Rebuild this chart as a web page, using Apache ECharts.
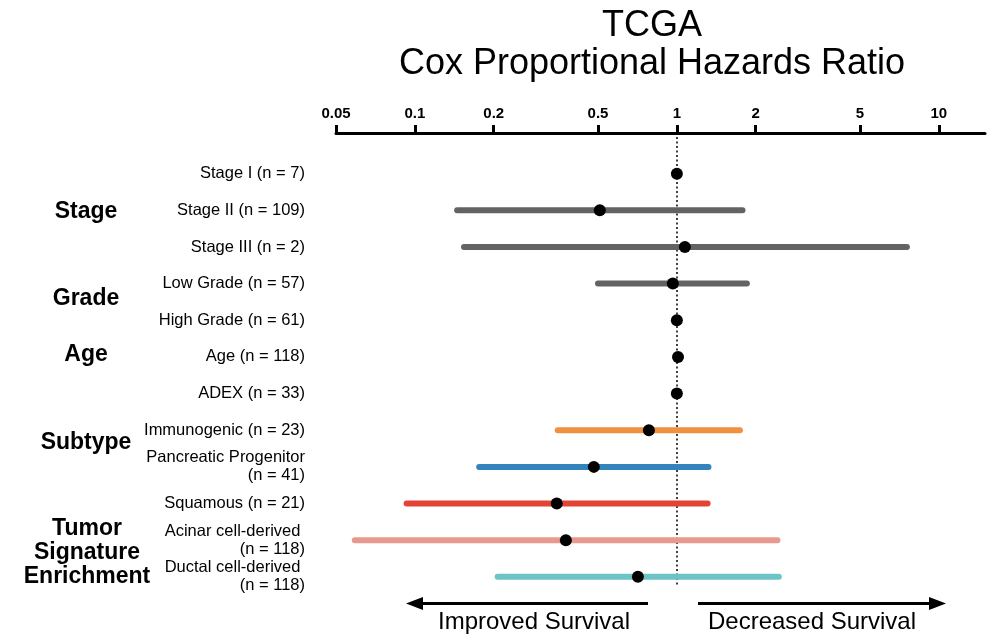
<!DOCTYPE html>
<html>
<head>
<meta charset="utf-8">
<script src="https://cdn.jsdelivr.net/npm/echarts@6/dist/echarts.min.js"></script>
<style>
html,body{margin:0;padding:0;background:#fff;}
#main{width:994px;height:638px;}
</style>
</head>
<body>
<div id="main"></div>
<script>
// ---- data ----
const rowLabels = [
  'Stage I (n = 7)',
  'Stage II (n = 109)',
  'Stage III (n = 2)',
  'Low Grade (n = 57)',
  'High Grade (n = 61)',
  'Age (n = 118)',
  'ADEX (n = 33)',
  'Immunogenic (n = 23)',
  'Pancreatic Progenitor\n(n = 41)',
  'Squamous (n = 21)',
  'Acinar cell-derived \n(n = 118)',
  'Ductal cell-derived \n(n = 118)'
];
const hazardRatio = [1.0, 0.508, 1.073, 0.965, 1.0, 1.01, 1.0, 0.782, 0.482, 0.348, 0.377, 0.710];
const ciLower = [null, 0.145, 0.154, 0.50, null, null, null, 0.351, 0.176, 0.093, 0.059, 0.207];
const ciUpper = [null, 1.78, 7.55, 1.85, null, null, null, 1.74, 1.32, 1.31, 2.42, 2.45];
const rowColors = ['#636363', '#636363', '#636363', '#636363', '#636363', '#636363', '#636363',
  '#f0913f', '#3383bc', '#e34234', '#e8998f', '#6cc4c4'];
const tickValues = [0.05, 0.1, 0.2, 0.5, 1, 2, 5, 10];
const tickLabels = ['0.05', '0.1', '0.2', '0.5', '1', '2', '5', '10'];
const groupLabels = ['Stage', 'Grade', 'Age', 'Subtype', 'Tumor\nSignature\nEnrichment'];
const titleText = 'TCGA\nCox Proportional Hazards Ratio';
const arrowTexts = ['Improved Survival', 'Decreased Survival'];

// ---- build ----
const ciData = [];
rowLabels.forEach((l, i) => {
  if (ciLower[i] != null) ciData.push([ciLower[i], ciUpper[i], i]);
});
const pointData = hazardRatio.map((v, i) => [v, i]);

const chart = echarts.init(document.getElementById('main'));
const FONT = '"Liberation Sans", Arial, Helvetica, sans-serif';

const option = {
  backgroundColor: '#ffffff',
  animation: false,
  grid: { left: 336, right: 9, top: 137, bottom: 52, containLabel: false },
  xAxis: {
    type: 'log',
    logBase: 10,
    position: 'top',
    offset: 4,
    min: 0.05,
    max: 15,
    axisLine: { show: true, onZero: false, lineStyle: { color: '#000', width: 3 } },
    axisTick: { show: true, customValues: tickValues, length: 8, inside: false, lineStyle: { color: '#000', width: 3 } },
    axisLabel: {
      customValues: tickValues,
      margin: 12,
      color: '#000',
      fontFamily: FONT,
      fontWeight: 'bold',
      fontSize: 15,
      formatter: function (v) {
        for (let k = 0; k < tickValues.length; k++) {
          if (Math.abs(tickValues[k] - v) < 1e-9 * Math.max(1, v)) return tickLabels[k];
        }
        return '';
      }
    },
    splitLine: { show: false },
    minorTick: { show: false },
    minorSplitLine: { show: false }
  },
  yAxis: {
    type: 'value',
    inverse: true,
    min: -1,
    max: 11.25,
    interval: 1,
    axisLine: { show: false },
    axisTick: { show: false },
    splitLine: { show: false },
    axisLabel: {
      margin: 31,
      color: '#000',
      fontFamily: FONT,
      fontSize: 16.5,
      lineHeight: 18,
      align: 'right',
      formatter: function (v) {
        if (Number.isInteger(v) && v >= 0 && v < rowLabels.length) return rowLabels[v];
        return '';
      }
    }
  },
  series: [
    {
      type: 'custom',
      name: 'CI',
      data: ciData,
      encode: { x: [0, 1], y: 2 },
      z: 2,
      renderItem: function (params, api) {
        const lo = api.value(0), hi = api.value(1), row = api.value(2);
        const p1 = api.coord([lo, row]);
        const p2 = api.coord([hi, row]);
        return {
          type: 'line',
          shape: { x1: p1[0], y1: p1[1], x2: p2[0], y2: p2[1] },
          style: { stroke: rowColors[row], lineWidth: 6, lineCap: 'round' }
        };
      }
    },
    {
      type: 'scatter',
      name: 'HR',
      data: pointData,
      symbol: 'circle',
      symbolSize: 12,
      itemStyle: { color: '#000', opacity: 1 },
      z: 5,
      markLine: {
        silent: true,
        symbol: ['none', 'none'],
        label: { show: false },
        lineStyle: { color: '#000', width: 1.5, type: [2, 2.5], opacity: 1 },
        data: [{ xAxis: 1 }],
        z: 1
      }
    }
  ],
  graphic: [
    { type: 'text', x: 652, y: 7, style: { text: titleText, font: '36px ' + FONT, fill: '#000', align: 'center', verticalAlign: 'top', lineHeight: 38 } },
    { type: 'text', x: 86, y: 212, style: { text: groupLabels[0], font: 'bold 23px ' + FONT, fill: '#000', align: 'center', verticalAlign: 'middle' } },
    { type: 'text', x: 86, y: 299, style: { text: groupLabels[1], font: 'bold 23px ' + FONT, fill: '#000', align: 'center', verticalAlign: 'middle' } },
    { type: 'text', x: 86, y: 355, style: { text: groupLabels[2], font: 'bold 23px ' + FONT, fill: '#000', align: 'center', verticalAlign: 'middle' } },
    { type: 'text', x: 86, y: 443, style: { text: groupLabels[3], font: 'bold 23px ' + FONT, fill: '#000', align: 'center', verticalAlign: 'middle' } },
    { type: 'text', x: 87, y: 553, style: { text: groupLabels[4], font: 'bold 23px ' + FONT, fill: '#000', align: 'center', verticalAlign: 'middle', lineHeight: 24 } },
    // arrows
    { type: 'line', shape: { x1: 648, y1: 603.5, x2: 420, y2: 603.5 }, style: { stroke: '#000', lineWidth: 3 } },
    { type: 'polygon', shape: { points: [[406, 603.5], [423, 597], [423, 610]] }, style: { fill: '#000' } },
    { type: 'line', shape: { x1: 698, y1: 603.5, x2: 932, y2: 603.5 }, style: { stroke: '#000', lineWidth: 3 } },
    { type: 'polygon', shape: { points: [[946, 603.5], [929, 597], [929, 610]] }, style: { fill: '#000' } },
    { type: 'text', x: 534, y: 622, style: { text: arrowTexts[0], font: '24px ' + FONT, fill: '#000', align: 'center', verticalAlign: 'middle' } },
    { type: 'text', x: 812, y: 622, style: { text: arrowTexts[1], font: '24px ' + FONT, fill: '#000', align: 'center', verticalAlign: 'middle' } }
  ]
};
chart.setOption(option);
</script>
</body>
</html>
